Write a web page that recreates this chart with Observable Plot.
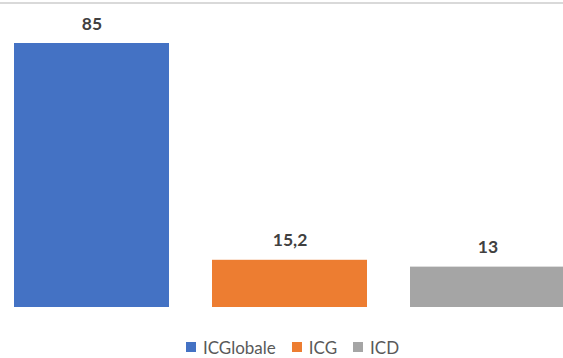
<!DOCTYPE html>
<html>
<head>
<meta charset="utf-8">
<script src="https://cdn.jsdelivr.net/npm/d3@7"></script>
<script src="https://cdn.jsdelivr.net/npm/@observablehq/plot@0.6"></script>
<style>
  html, body { margin: 0; padding: 0; background: #fff; }
  #wrap { position: relative; width: 563px; height: 358px; overflow: hidden; font-family: Lato, "Liberation Sans", sans-serif; }
  #topline { position: absolute; left: 0; top: 2px; width: 563px; height: 2px; background: #d9d9d9; }
  #chart { position: absolute; left: 0; top: 0; }
  #legend { position: absolute; left: 0; top: 336px; width: 563px; height: 22px; display: flex; justify-content: center; align-items: center; box-sizing: border-box; padding-left: 22px; }
  .item { display: flex; align-items: center; font-size: 17px; color: #595959; margin: 0 8px; }
  .sw { width: 10px; height: 10px; margin-right: 7px; }
</style>
</head>
<body>
<div id="wrap">
  <div id="chart"></div>
  <div id="topline"></div>
  <div id="legend"></div>
</div>
<script>
const categories = ["ICGlobale", "ICG", "ICD"];
const values = [85, 15.2, 13];
const colors = ["#4472C4", "#ED7D31", "#A5A5A5"];

const data = categories.map((c, i) => ({cat: c, value: values[i]}));
const fmt = v => String(v).replace(".", ",");

const chart = Plot.plot({
  width: 563,
  height: 335,
  marginTop: 0,
  marginBottom: 0,
  marginLeft: 0,
  marginRight: 0,
  style: {background: "transparent", overflow: "hidden"},
  x: {domain: categories, range: [-8.5, 587], paddingInner: 0.217, paddingOuter: 0.1085, axis: null},
  y: {domain: [0, 85], range: [307, 43], axis: null},
  color: {domain: categories, range: colors},
  marks: [
    Plot.barY(data, {x: "cat", y: "value", fill: "cat"}),
    Plot.text(data, {
      x: "cat", y: "value", text: d => fmt(d.value),
      dy: -14, lineAnchor: "bottom", textAnchor: "middle",
      fontSize: 17.5, fontWeight: "bold", fill: "#404040",
      fontFamily: "Lato, 'Liberation Sans', sans-serif"
    })
  ]
});
document.getElementById("chart").appendChild(chart);

const legend = document.getElementById("legend");
categories.forEach((c, i) => {
  const it = document.createElement("div");
  it.className = "item";
  const sw = document.createElement("span");
  sw.className = "sw";
  sw.style.background = colors[i];
  const tx = document.createElement("span");
  tx.textContent = c;
  it.appendChild(sw);
  it.appendChild(tx);
  legend.appendChild(it);
});
</script>
</body>
</html>
